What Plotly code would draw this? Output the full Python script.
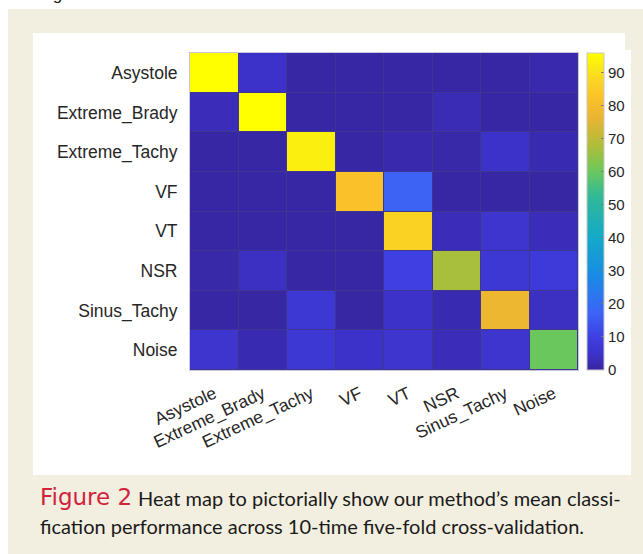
import plotly.graph_objects as go

classes = ["Asystole", "Extreme_Brady", "Extreme_Tachy", "VF", "VT", "NSR", "Sinus_Tachy", "Noise"]

row_asystole = [96, 5, 0.5, 0.5, 0.5, 0.5, 0.5, 1.5]
row_brady = [3, 96, 0.5, 0.5, 0.5, 2.5, 0.5, 0.5]
row_etachy = [0.5, 0.5, 93, 0.5, 1.5, 1, 5, 2]
row_vf = [0.5, 0.5, 0.5, 82, 17, 0.5, 0.5, 0.3]
row_vt = [0.5, 0.5, 0.5, 0.3, 87, 3, 6, 3]
row_nsr = [1, 4, 0.5, 0.5, 10, 67, 7, 8]
row_stachy = [0.5, 0.3, 7, 0.3, 5, 2, 78, 4]
row_noise = [6, 2, 7, 5, 6, 3, 6, 60]

z = [row_asystole, row_brady, row_etachy, row_vf, row_vt, row_nsr, row_stachy, row_noise]

colorbar_ticks = [0, 10, 20, 30, 40, 50, 60, 70, 80, 90]

caption_red = "Figure 2"
caption_line1 = "Heat map to pictorially show our method\u2019s mean classi-"
caption_line2 = "fication performance across 10-time five-fold cross-validation."

cscale = [
    [0.00, "rgb(55,38,160)"],
    [0.05, "rgb(60,50,200)"],
    [0.10, "rgb(62,62,225)"],
    [0.18, "rgb(60,100,245)"],
    [0.30, "rgb(25,140,228)"],
    [0.42, "rgb(20,170,200)"],
    [0.55, "rgb(50,185,150)"],
    [0.63, "rgb(110,200,90)"],
    [0.70, "rgb(170,190,60)"],
    [0.80, "rgb(235,180,50)"],
    [0.86, "rgb(250,195,40)"],
    [0.92, "rgb(250,215,35)"],
    [0.96, "rgb(250,235,20)"],
    [1.00, "rgb(255,255,0)"],
]

fig = go.Figure(go.Heatmap(
    z=z, x=classes, y=classes,
    zmin=0, zmax=96,
    colorscale=cscale,
    xgap=1, ygap=1,
    colorbar=dict(
        x=1.0232, xanchor="left", xref="paper",
        y=0.5, yanchor="middle", len=1, lenmode="fraction",
        thickness=17, thicknessmode="pixels",
        outlinewidth=1, outlinecolor="#c8c8c8",
        tickvals=colorbar_ticks,
        ticks="inside", ticklen=3, tickcolor="#777777",
        tickfont=dict(family="Arial", size=15, color="#262626"),
        ypad=0, xpad=0,
    ),
))

# pixel -> paper helpers (plot area x 190..578, y 53..370)
L, R, T, B = 190, 578, 53, 370
W, H = 643, 554
def px(x):
    return (x - L) / (R - L)
def py(y):
    return (B - y) / (B - T)

grid_col = "#3e3690"

shapes = [
    dict(type="rect", xref="paper", yref="paper", x0=px(8), x1=px(660), y0=py(9), y1=py(570),
         fillcolor="#f3efe0", line=dict(width=0), layer="below"),
    dict(type="rect", xref="paper", yref="paper", x0=px(33), x1=px(625), y0=py(33), y1=py(475),
         fillcolor="white", line=dict(width=0), layer="below"),
    dict(type="rect", xref="paper", yref="paper", x0=px(33), x1=px(631), y0=py(50), y1=py(475),
         fillcolor="white", line=dict(width=0), layer="below"),
    dict(type="rect", xref="paper", yref="paper", x0=0, x1=1, y0=0, y1=1,
         fillcolor=grid_col, line=dict(width=0), layer="below"),
]

annotations = [
    dict(xref="paper", yref="paper", x=px(10), y=py(6), xanchor="left", yanchor="bottom",
         text="setting", showarrow=False, font=dict(family="Arial", size=17, color="#222222")),
    dict(xref="paper", yref="paper", x=px(38), y=py(497), xanchor="left", yanchor="middle",
         text=caption_red, showarrow=False, font=dict(family="DejaVu Sans", size=23, color="#d0243c")),
    dict(xref="paper", yref="paper", x=px(136), y=py(498), xanchor="left", yanchor="middle",
         text=caption_line1, showarrow=False, font=dict(family="Lato", size=20, color="#1a1a1a")),
    dict(xref="paper", yref="paper", x=px(38), y=py(526), xanchor="left", yanchor="middle",
         text=caption_line2, showarrow=False, font=dict(family="Lato", size=20, color="#1a1a1a")),
]

fig.update_layout(
    width=W, height=H,
    margin=dict(l=L, r=W - R, t=T, b=H - B, pad=0),
    paper_bgcolor="white",
    plot_bgcolor=grid_col,
    shapes=shapes,
    annotations=annotations,
    xaxis=dict(
        type="category", tickangle=-25,
        tickfont=dict(family="Arial", size=17.5, color="#262626"),
        showline=True, mirror=True, linecolor="#c8c8dc", linewidth=1,
        showgrid=False, zeroline=False, ticks="", ticklabelstandoff=6,
    ),
    yaxis=dict(
        type="category", autorange="reversed",
        tickfont=dict(family="Arial", size=17.5, color="#262626"),
        showline=True, mirror=True, linecolor="#c8c8dc", linewidth=1,
        showgrid=False, zeroline=False, ticks="", ticklabelstandoff=8,
    ),
)

fig.write_html(
    "out.html",
    config={"displayModeBar": False},
    post_script="document.body.style.margin='0';document.body.style.overflow='hidden';",
)
